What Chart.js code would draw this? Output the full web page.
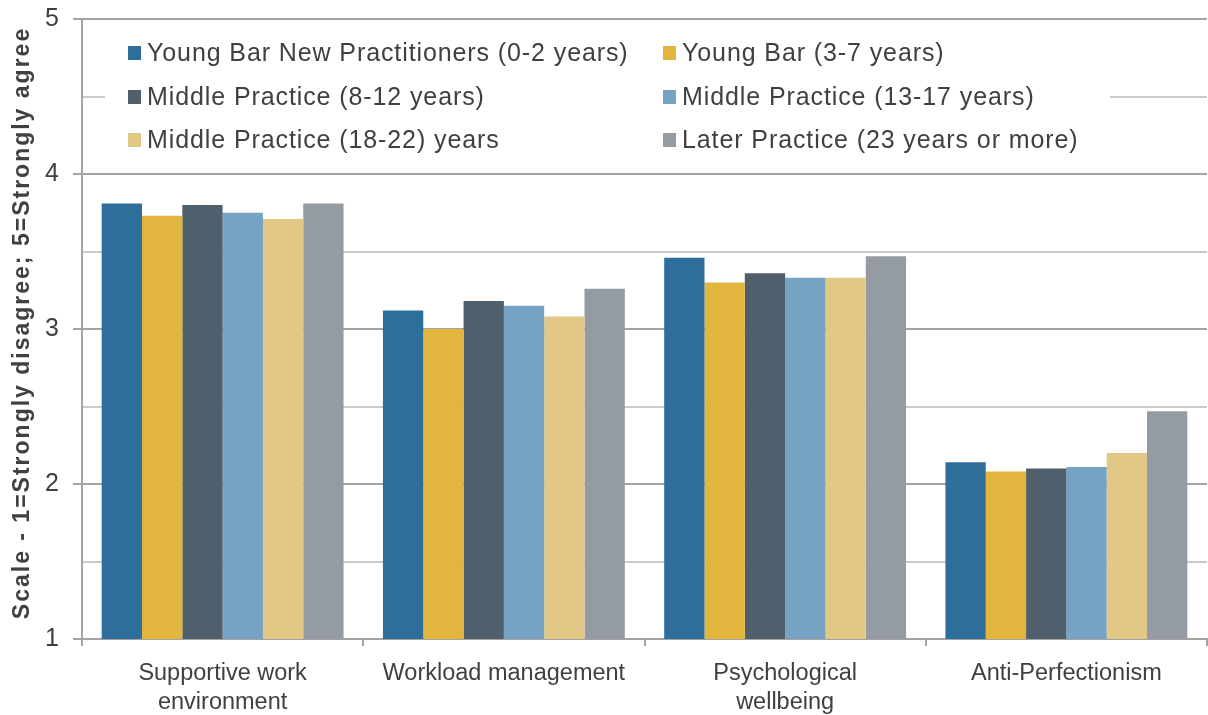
<!DOCTYPE html>
<html>
<head>
<meta charset="utf-8">
<script src="https://cdn.jsdelivr.net/npm/chart.js@4"></script>
<style>
  body { margin: 0; background: #fff; }
  #wrap { width: 1208px; height: 715px; }
</style>
</head>
<body>
<div id="wrap"><canvas id="barChart" width="1208" height="715"></canvas></div>
<script>
const categories = [['Supportive work', 'environment'], 'Workload management', ['Psychological', 'wellbeing'], 'Anti-Perfectionism'];
const seriesNames = [
    'Young Bar New Practitioners (0-2 years)',
    'Young Bar (3-7 years)',
    'Middle Practice (8-12 years)',
    'Middle Practice (13-17 years)',
    'Middle Practice (18-22) years',
    'Later Practice (23 years or more)'
];
const youngBarNew = [3.81, 3.12, 3.46, 2.14];
const youngBar = [3.73, 3.00, 3.30, 2.08];
const middle8to12 = [3.80, 3.18, 3.36, 2.10];
const middle13to17 = [3.75, 3.15, 3.33, 2.11];
const middle18to22 = [3.71, 3.08, 3.33, 2.20];
const laterPractice = [3.81, 3.26, 3.47, 2.47];
const yTicks = [1, 2, 3, 4, 5];
const yTitle = 'Scale - 1=Strongly disagree; 5=Strongly agree';

const colors = ['#2e6e9b', '#e2b53f', '#4f5f6b', '#76a3c3', '#e1c985', '#959ba2'];
const allValues = [youngBarNew, youngBar, middle8to12, middle13to17, middle18to22, laterPractice];
const textColor = '#404040';
const majorGrid = '#a3a3a3';
const minorGrid = '#cacaca';
const fontFamily = '"Liberation Sans", Arial, sans-serif';

// legend drawn as two columns inside the plot, over a white box; y title drawn here too
const boxLegend = {
    id: 'boxLegend',
    beforeDatasetsDraw(chart) {
        const ctx = chart.ctx;
        ctx.save();
        ctx.fillStyle = '#fff';
        ctx.fillRect(105, 26, 1005, 142);
        ctx.font = '25px ' + fontFamily;
        ctx.letterSpacing = '0.9px';
        ctx.textBaseline = 'middle';
        const colX = [128, 663];
        const rowY = [53, 97, 140];
        chart.data.datasets.forEach((ds, i) => {
            const x = colX[i % 2];
            const y = rowY[Math.floor(i / 2)];
            ctx.fillStyle = ds.backgroundColor;
            ctx.fillRect(x, y - 7, 13, 14);
            ctx.fillStyle = textColor;
            ctx.fillText(ds.label, x + 19, y + 1);
        });
        ctx.restore();

        ctx.save();
        const area = chart.chartArea;
        ctx.translate(29, (area.top + area.bottom) / 2 - 6);
        ctx.rotate(-Math.PI / 2);
        ctx.font = 'bold 23px ' + fontFamily;
        ctx.letterSpacing = '2px';
        ctx.textAlign = 'center';
        ctx.textBaseline = 'alphabetic';
        ctx.fillStyle = textColor;
        ctx.fillText(yTitle, 0, 0);
        ctx.restore();
    }
};

new Chart(document.getElementById('barChart').getContext('2d'), {
    type: 'bar',
    data: {
        labels: categories,
        datasets: seriesNames.map((name, i) => ({
            label: name,
            data: allValues[i],
            backgroundColor: colors[i],
            borderWidth: 0,
            categoryPercentage: 0.86,
            barPercentage: 1.0
        }))
    },
    options: {
        responsive: false,
        animation: false,
        layout: { padding: { top: 19, right: 1, left: 0, bottom: 0 } },
        plugins: {
            legend: { display: false },
            tooltip: { enabled: false }
        },
        scales: {
            x: {
                afterFit: s => { s.height = 76; },
                grid: {
                    offset: true,
                    drawOnChartArea: false,
                    color: majorGrid,
                    lineWidth: 2,
                    tickLength: 7
                },
                border: { color: majorGrid, width: 2 },
                ticks: {
                    color: textColor,
                    padding: 13,
                    font: { family: fontFamily, size: 23.5, lineHeight: 1.23 }
                }
            },
            y: {
                min: 1,
                max: 5,
                afterFit: s => {
                    s.width = 82;
                    s.paddingTop = 0;
                    s.paddingBottom = 0;
                },
                afterBuildTicks: s => {
                    const t = [];
                    for (let i = 0; i < yTicks.length; i++) {
                        t.push({ value: yTicks[i] });
                        if (i < yTicks.length - 1) t.push({ value: yTicks[i] + 0.5 });
                    }
                    s.ticks = t;
                },
                grid: {
                    color: c => (c.tick.value % 1 ? minorGrid : majorGrid),
                    tickColor: c => (c.tick.value % 1 ? 'rgba(0,0,0,0)' : majorGrid),
                    lineWidth: 2,
                    tickLength: 9
                },
                border: { color: majorGrid, width: 2 },
                ticks: {
                    color: textColor,
                    padding: 14,
                    font: { family: fontFamily, size: 25 },
                    callback: v => (yTicks.includes(v) ? v : '')
                }
            }
        }
    },
    plugins: [boxLegend]
});
</script>
</body>
</html>
